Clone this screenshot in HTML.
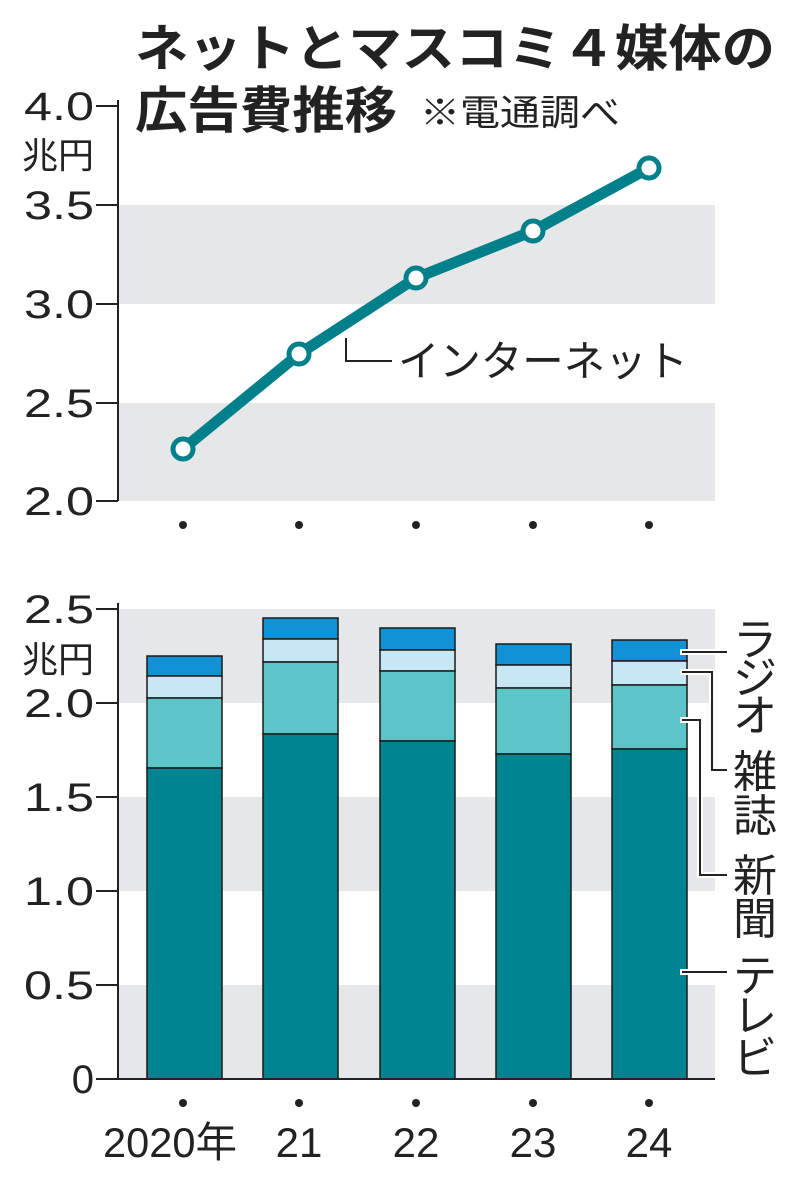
<!DOCTYPE html>
<html><head><meta charset="utf-8"><style>
html,body{margin:0;padding:0;background:#fff;}
svg{display:block;font-family:"Liberation Sans","Noto Sans CJK JP",sans-serif;}
</style></head><body>
<svg width="800" height="1186" viewBox="0 0 800 1186">
<!-- title -->
<text x="135" y="66" font-size="50" font-weight="bold" fill="#222" textLength="640" lengthAdjust="spacingAndGlyphs">ネットとマスコミ４媒体の</text>
<text x="135" y="128" font-size="50" font-weight="bold" fill="#222" textLength="262" lengthAdjust="spacingAndGlyphs">広告費推移</text>
<text x="420" y="125" font-size="36" fill="#222" textLength="200" lengthAdjust="spacingAndGlyphs">※電通調べ</text>

<!-- top chart bands -->
<rect x="118" y="205" width="597" height="99" fill="#e6e7e8"/>
<rect x="118" y="403" width="597" height="98" fill="#e6e7e8"/>
<line x1="118" y1="100" x2="118" y2="501" stroke="#222" stroke-width="2"/>
<g stroke="#222" stroke-width="2">
<line x1="96" y1="106" x2="118" y2="106"/><line x1="96" y1="205" x2="118" y2="205"/>
<line x1="96" y1="304" x2="118" y2="304"/><line x1="96" y1="403" x2="118" y2="403"/>
<line x1="96" y1="501" x2="118" y2="501"/>
</g>
<g font-size="40" fill="#222" text-anchor="end">
<text x="94" y="120" textLength="70" lengthAdjust="spacingAndGlyphs">4.0</text>
<text x="94" y="219" textLength="70" lengthAdjust="spacingAndGlyphs">3.5</text>
<text x="94" y="318" textLength="70" lengthAdjust="spacingAndGlyphs">3.0</text>
<text x="94" y="417" textLength="70" lengthAdjust="spacingAndGlyphs">2.5</text>
<text x="94" y="515" textLength="70" lengthAdjust="spacingAndGlyphs">2.0</text>
</g>
<text x="22" y="168" font-size="36" fill="#222" textLength="72" lengthAdjust="spacingAndGlyphs">兆円</text>
<polyline points="183,449 299,354 416,278 533,231 649,168" fill="none" stroke="#00808a" stroke-width="11" stroke-linejoin="round"/>
<g fill="#fff" stroke="#00808a" stroke-width="5">
<circle cx="183" cy="449" r="10"/><circle cx="299" cy="354" r="10"/><circle cx="416" cy="278" r="10"/><circle cx="533" cy="231" r="10"/><circle cx="649" cy="168" r="10"/>
</g>
<polyline points="346,338 346,361 392,361" fill="none" stroke="#222" stroke-width="2"/>
<text x="398" y="376" font-size="42" fill="#222" textLength="290" lengthAdjust="spacingAndGlyphs">インターネット</text>
<g fill="#222">
<circle cx="183" cy="525" r="4"/><circle cx="299" cy="525" r="4"/><circle cx="416" cy="525" r="4"/><circle cx="533" cy="525" r="4"/><circle cx="649" cy="525" r="4"/>
</g>

<!-- bottom chart -->
<rect x="118" y="609" width="597" height="94" fill="#e6e7e8"/>
<rect x="118" y="797" width="597" height="94" fill="#e6e7e8"/>
<rect x="118" y="985" width="597" height="94" fill="#e6e7e8"/>
<line x1="118" y1="603" x2="118" y2="1079" stroke="#222" stroke-width="2"/>
<g stroke="#222" stroke-width="2">
<line x1="96" y1="609" x2="118" y2="609"/><line x1="96" y1="703" x2="118" y2="703"/>
<line x1="96" y1="797" x2="118" y2="797"/><line x1="96" y1="891" x2="118" y2="891"/>
<line x1="96" y1="985" x2="118" y2="985"/><line x1="96" y1="1079" x2="118" y2="1079"/>
</g>
<g font-size="40" fill="#222" text-anchor="end">
<text x="94" y="623" textLength="70" lengthAdjust="spacingAndGlyphs">2.5</text>
<text x="94" y="717" textLength="70" lengthAdjust="spacingAndGlyphs">2.0</text>
<text x="94" y="811" textLength="70" lengthAdjust="spacingAndGlyphs">1.5</text>
<text x="94" y="905" textLength="70" lengthAdjust="spacingAndGlyphs">1.0</text>
<text x="94" y="999" textLength="70" lengthAdjust="spacingAndGlyphs">0.5</text>
<text x="94" y="1093">0</text>
</g>
<text x="22" y="672" font-size="36" fill="#222" textLength="72" lengthAdjust="spacingAndGlyphs">兆円</text>

<g stroke="#1a1a1a" stroke-width="1.5">
<rect x="147" y="656" width="75" height="20" fill="#1192d4"/>
<rect x="147" y="676" width="75" height="22" fill="#c8e7f5"/>
<rect x="147" y="698" width="75" height="70" fill="#5cc5c7"/>
<rect x="147" y="768" width="75" height="311" fill="#008490"/>

<rect x="263" y="618" width="75" height="21" fill="#1192d4"/>
<rect x="263" y="639" width="75" height="23" fill="#c8e7f5"/>
<rect x="263" y="662" width="75" height="72" fill="#5cc5c7"/>
<rect x="263" y="734" width="75" height="345" fill="#008490"/>

<rect x="380" y="628" width="75" height="22" fill="#1192d4"/>
<rect x="380" y="650" width="75" height="21" fill="#c8e7f5"/>
<rect x="380" y="671" width="75" height="70" fill="#5cc5c7"/>
<rect x="380" y="741" width="75" height="338" fill="#008490"/>

<rect x="496" y="644" width="75" height="21" fill="#1192d4"/>
<rect x="496" y="665" width="75" height="23" fill="#c8e7f5"/>
<rect x="496" y="688" width="75" height="66" fill="#5cc5c7"/>
<rect x="496" y="754" width="75" height="325" fill="#008490"/>

<rect x="612" y="640" width="75" height="21" fill="#1192d4"/>
<rect x="612" y="661" width="75" height="24" fill="#c8e7f5"/>
<rect x="612" y="685" width="75" height="64" fill="#5cc5c7"/>
<rect x="612" y="749" width="75" height="330" fill="#008490"/>
</g>
<line x1="118" y1="1079" x2="715" y2="1079" stroke="#222" stroke-width="2"/>

<!-- leader lines -->
<g fill="none" stroke="#fff" stroke-width="6">
<polyline points="680,652 727,652"/>
<polyline points="680,672 712,672 712,770 727,770"/>
<polyline points="680,720 700,720 700,875 727,875"/>
<polyline points="680,972 727,972"/>
</g>
<g fill="none" stroke="#222" stroke-width="2">
<polyline points="682,652 727,652"/>
<polyline points="682,672 712,672 712,770 727,770"/>
<polyline points="682,720 700,720 700,875 727,875"/>
<polyline points="682,972 727,972"/>
</g>
<g font-size="44" fill="#222" text-anchor="middle">
<text x="755" y="655">ラ</text>
<text x="755" y="693">ジ</text>
<text x="755" y="731">オ</text>
<text x="755" y="787">雑</text>
<text x="755" y="831">誌</text>
<text x="755" y="891">新</text>
<text x="755" y="934">聞</text>
<text x="755" y="991">テ</text>
<text x="755" y="1031">レ</text>
<text x="755" y="1073">ビ</text>
</g>

<g fill="#222">
<circle cx="183" cy="1103" r="4"/><circle cx="299" cy="1103" r="4"/><circle cx="416" cy="1103" r="4"/><circle cx="533" cy="1103" r="4"/><circle cx="649" cy="1103" r="4"/>
</g>
<g font-size="42" fill="#222" text-anchor="middle">
<text x="170" y="1157" textLength="134" lengthAdjust="spacingAndGlyphs">2020年</text>
<text x="299" y="1157">21</text>
<text x="416" y="1157">22</text>
<text x="533" y="1157">23</text>
<text x="649" y="1157">24</text>
</g>
</svg>
</body></html>
